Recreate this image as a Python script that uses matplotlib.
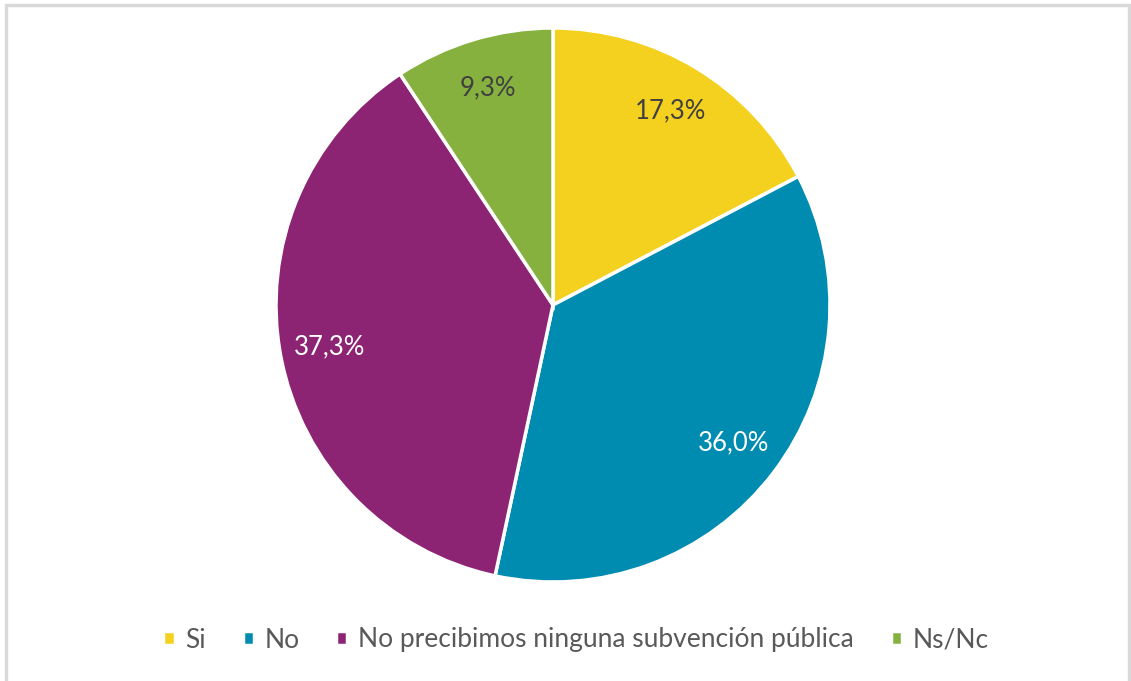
import matplotlib.pyplot as plt
from matplotlib.patches import Rectangle

# Data
categories = ['Si', 'No', 'No precibimos ninguna subvención pública', 'Ns/Nc']
values = [17.3, 36.0, 37.3, 9.3]
colors = ['#F5D11F', '#008BB0', '#8D2473', '#86B13F']
label_colors = ['#404040', 'white', 'white', '#404040']

plt.rcParams['font.family'] = ['Lato', 'DejaVu Sans']

W, H = 1131, 681
fig = plt.figure(figsize=(W / 100, H / 100), dpi=100)

# light frame around the chart area
fig.patches.append(Rectangle((6 / W, -0.05), (1129 - 6) / W, 1.05 - 5 / H,
                             transform=fig.transFigure, fill=False,
                             edgecolor='#D9D9D9', linewidth=2.5))

cx, cy, r = 553, 305, 277
ax = fig.add_axes([(cx - r) / W, 1 - (cy + r) / H, 2 * r / W, 2 * r / H])

wedges, texts, autotexts = ax.pie(
    values, colors=colors, startangle=90, counterclock=False,
    autopct=lambda p: f'{p:.1f}%'.replace('.', ','), pctdistance=0.82,
    wedgeprops=dict(edgecolor='white', linewidth=2.5),
    textprops=dict(fontsize=18.5))
for t, c in zip(autotexts, label_colors):
    t.set_color(c)
ax.set_aspect('equal')
ax.set_xlim(-1, 1)
ax.set_ylim(-1, 1)

leg = fig.legend(wedges, categories, loc='center', bbox_to_anchor=(576 / W, 1 - 640 / H),
                 ncol=4, frameon=False, fontsize=19, handlelength=0.42,
                 handleheight=0.42, handletextpad=0.4, columnspacing=1.4)
for txt in leg.get_texts():
    txt.set_color('#595959')

fig.savefig('out.png', dpi=100)
